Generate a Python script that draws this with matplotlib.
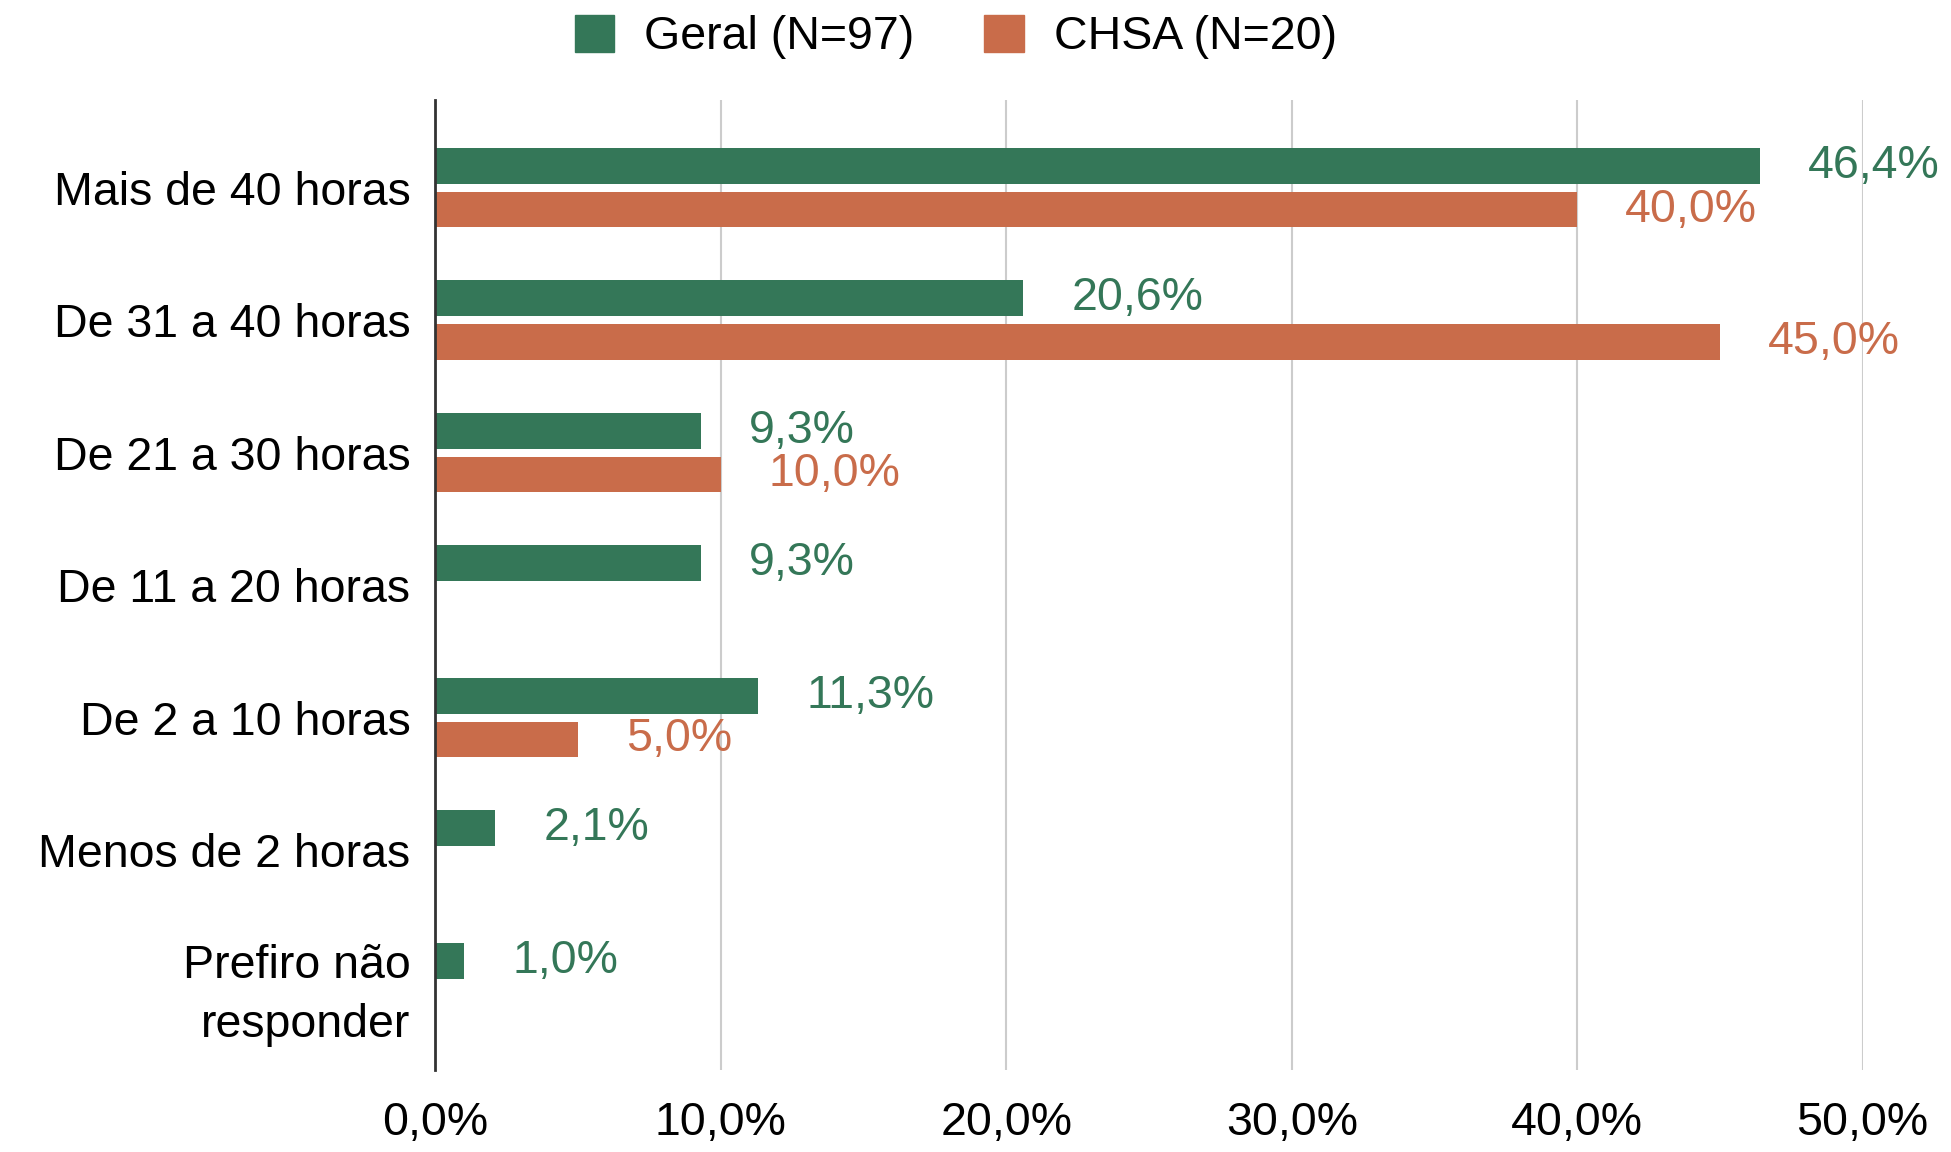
import numpy as np
import matplotlib.pyplot as plt
from matplotlib.patches import Patch

plt.rcParams['font.family'] = ['Liberation Sans', 'DejaVu Sans']

categorias = ['Mais de 40 horas', 'De 31 a 40 horas', 'De 21 a 30 horas',
              'De 11 a 20 horas', 'De 2 a 10 horas', 'Menos de 2 horas',
              'Prefiro não\nresponder']
geral = [46.4, 20.6, 9.3, 9.3, 11.3, 2.1, 1.0]
chsa = [40.0, 45.0, 10.0, None, 5.0, None, None]
series = ['Geral (N=97)', 'CHSA (N=20)']
cores = ['#347758', '#C96C4A']
xticks = [0, 10, 20, 30, 40, 50]

def fmt(v):
    return f'{v:.1f}%'.replace('.', ',')

fs = 33.5
fig = plt.figure(figsize=(19.51, 11.52), dpi=100)
ax = fig.add_axes([0.2232, 0.0712, 0.7315, 0.8418])

y = np.arange(len(categorias))
h = 0.27
off = 0.165
for vals, cor, d in [(geral, cores[0], -off), (chsa, cores[1], off)]:
    for yi, v in zip(y, vals):
        if v is None:
            continue
        ax.barh(yi + d, v, height=h, color=cor, zorder=3)
        ax.annotate(fmt(v), (v, yi + d), xytext=(48, 0), textcoords='offset pixels',
                    ha='left', va='center', fontsize=fs, color=cor, zorder=4)

ax.set_ylim(len(categorias) - 1 + 0.66, -0.66)
ax.set_xlim(0, 50)
ax.set_xticks(xticks)
ax.set_xticklabels([fmt(t) for t in xticks], fontsize=fs)
ax.set_yticks(y)
ax.set_yticklabels(categorias, fontsize=fs, linespacing=1.45)
ax.tick_params(axis='both', length=0)
ax.tick_params(axis='x', pad=22)
ax.tick_params(axis='y', pad=18)
ax.grid(axis='x', color='#cccccc', linewidth=1.5, zorder=0)
for s in ['top', 'right', 'bottom']:
    ax.spines[s].set_visible(False)
ax.spines['left'].set_color('#333333')
ax.spines['left'].set_linewidth(2)
ax.spines['left'].set_zorder(5)

handles = [Patch(color=c, label=l) for c, l in zip(cores, series)]
fig.legend(handles=handles, loc='center', bbox_to_anchor=(0.49, 0.968), ncol=2,
           frameon=False, fontsize=fs, handlelength=0.85, handleheight=0.85,
           columnspacing=1.5, handletextpad=0.65)

fig.savefig('out.png', dpi=100, facecolor='white')
